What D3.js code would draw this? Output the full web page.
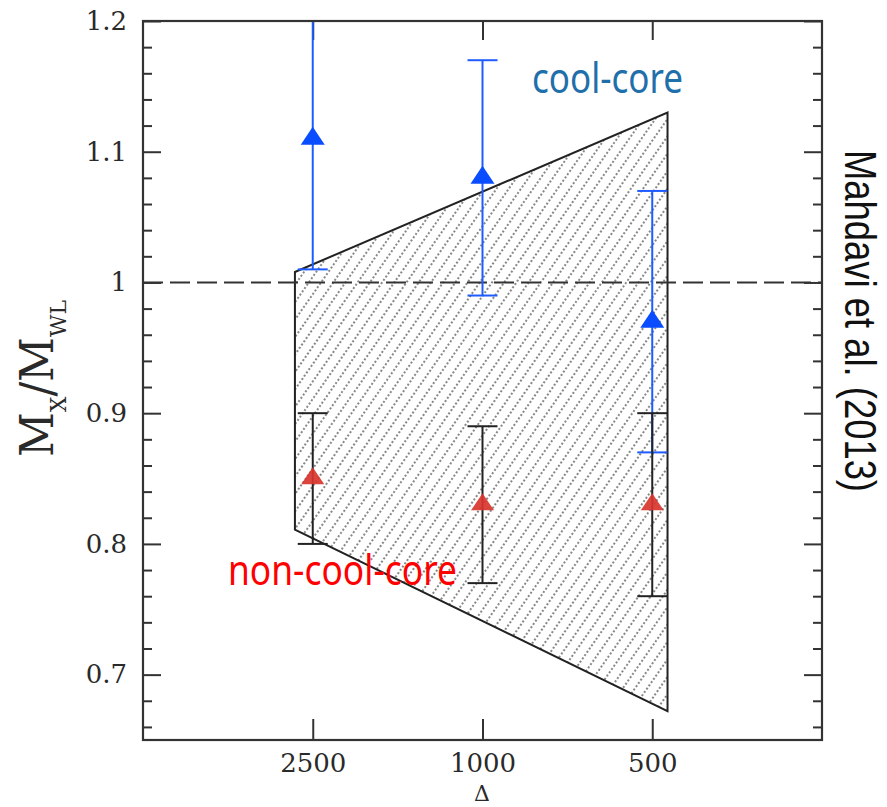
<!DOCTYPE html>
<html>
<head>
<meta charset="utf-8">
<script src="https://cdn.jsdelivr.net/npm/d3@7"></script>
<style>
  html, body { margin: 0; padding: 0; background: #fff; }
  svg { display: block; }
</style>
</head>
<body>
<svg id="chart" width="887" height="807"></svg>
<script>
// ---------- data ----------
const categories = ["2500", "1000", "500"];           // overdensity Δ
const coolCoreValue = [1.11, 1.08, 0.97];
const coolCoreLow   = [1.01, 0.99, 0.87];
const coolCoreHigh  = [1.22, 1.17, 1.07];
const nonCoolValue  = [0.85, 0.83, 0.83];
const nonCoolLow    = [0.80, 0.77, 0.76];
const nonCoolHigh   = [0.90, 0.89, 0.90];
// hatched band (x in category-index units, y in Mx/Mwl)
const bandX = [-0.105, 2.09, 2.09, -0.105];
const bandY = [1.008, 1.13, 0.672, 0.811];
const yMajorTicks = [0.7, 0.8, 0.9, 1.0, 1.1, 1.2];
const yTickLabels = ["0.7", "0.8", "0.9", "1", "1.1", "1.2"];
const yMinorTicks = [0.66, 0.68, 0.72, 0.74, 0.76, 0.78, 0.82, 0.84, 0.86, 0.88,
                     0.92, 0.94, 0.96, 0.98, 1.02, 1.04, 1.06, 1.08, 1.12, 1.14, 1.16, 1.18];
const referenceLine = 1.0;

// ---------- layout ----------
const L = 143, R = 822, T = 21, B = 740;
const svg = d3.select("#chart");

const x = d3.scalePoint().domain(categories).range([L, R]).padding(1);
const xi = d3.scaleLinear().domain([-1, 3]).range([L, R]);
const y = d3.scaleLinear().domain([0.65, 1.2]).range([B, T]);

const defs = svg.append("defs");
defs.append("clipPath").attr("id", "clip")
  .append("rect").attr("x", L).attr("y", T).attr("width", R - L).attr("height", B - T);
const pat = defs.append("pattern").attr("id", "hatch")
  .attr("patternUnits", "userSpaceOnUse").attr("width", 10).attr("height", 8)
  .attr("patternTransform", "rotate(35)");
pat.append("line").attr("x1", 5).attr("x2", 5).attr("y1", 0).attr("y2", 8)
  .attr("stroke", "#555").attr("stroke-width", 1.4).attr("stroke-dasharray", "2 2");

// ---------- axes (drawn under the data) ----------
const tickFont = "'DejaVu Serif', serif";
function styleAxis(g) {
  g.select(".domain").remove();
  g.selectAll(".tick line").attr("stroke", "#333").attr("stroke-width", 2);
  g.selectAll("text").attr("font-family", tickFont).attr("font-size", 26).attr("fill", "#2a2a2a");
}
// left
svg.append("g").attr("transform", `translate(${L},0)`)
  .call(d3.axisLeft(y).tickValues(yMajorTicks).tickSizeInner(-18).tickSizeOuter(0).tickPadding(16)
    .tickFormat((d, i) => yTickLabels[i]))
  .call(styleAxis);
svg.append("g").attr("transform", `translate(${L},0)`)
  .call(d3.axisLeft(y).tickValues(yMinorTicks).tickSizeInner(-9).tickSizeOuter(0).tickFormat(""))
  .call(styleAxis);
// right
svg.append("g").attr("transform", `translate(${R},0)`)
  .call(d3.axisRight(y).tickValues(yMajorTicks).tickSizeInner(-18).tickSizeOuter(0).tickFormat(""))
  .call(styleAxis);
svg.append("g").attr("transform", `translate(${R},0)`)
  .call(d3.axisRight(y).tickValues(yMinorTicks).tickSizeInner(-9).tickSizeOuter(0).tickFormat(""))
  .call(styleAxis);
// bottom
svg.append("g").attr("transform", `translate(0,${B})`)
  .call(d3.axisBottom(x).tickSizeInner(-21).tickSizeOuter(0).tickPadding(14))
  .call(styleAxis);
// top
svg.append("g").attr("transform", `translate(0,${T})`)
  .call(d3.axisTop(x).tickSizeInner(-19).tickSizeOuter(0).tickFormat(""))
  .call(styleAxis);

const plot = svg.append("g").attr("clip-path", "url(#clip)");

// hatched band
const bandPts = bandX.map((v, i) => [xi(v), y(bandY[i])]);
plot.append("path")
  .attr("d", d3.line()(bandPts) + "Z")
  .attr("fill", "url(#hatch)")
  .attr("stroke", "#222").attr("stroke-width", 2).attr("stroke-linejoin", "miter");

// reference dashed line
plot.append("line")
  .attr("x1", L).attr("x2", R).attr("y1", y(referenceLine)).attr("y2", y(referenceLine))
  .attr("stroke", "#333").attr("stroke-width", 2).attr("stroke-dasharray", "20 7");

function errorBars(values, lows, highs, color, capW) {
  const g = plot.append("g").attr("stroke", color).attr("stroke-width", 2);
  categories.forEach((c, i) => {
    const cx = x(c);
    g.append("line").attr("x1", cx).attr("x2", cx).attr("y1", y(lows[i])).attr("y2", y(highs[i]));
    g.append("line").attr("x1", cx - capW).attr("x2", cx + capW).attr("y1", y(lows[i])).attr("y2", y(lows[i]));
    g.append("line").attr("x1", cx - capW).attr("x2", cx + capW).attr("y1", y(highs[i])).attr("y2", y(highs[i]));
  });
}
function triangles(values, color, w, h, opacity) {
  plot.append("g").selectAll("path").data(categories).join("path")
    .attr("d", (c, i) => {
      const cx = x(c), cy = y(values[i]);
      return `M${cx},${cy - 2 * h / 3}L${cx + w / 2},${cy + h / 3}L${cx - w / 2},${cy + h / 3}Z`;
    })
    .attr("fill", color).attr("opacity", opacity);
}

errorBars(coolCoreValue, coolCoreLow, coolCoreHigh, "#1f5cff", 15);
errorBars(nonCoolValue, nonCoolLow, nonCoolHigh, "#222", 15);
triangles(coolCoreValue, "#0a4cff", 24, 18, 1);
triangles(nonCoolValue, "#d9352c", 23, 17, 0.92);

// frame
svg.append("rect").attr("x", L).attr("y", T).attr("width", R - L).attr("height", B - T)
  .attr("fill", "none").attr("stroke", "#333").attr("stroke-width", 2.2);

// x label
svg.append("text").attr("x", 482).attr("y", 801).attr("text-anchor", "middle")
  .attr("font-family", tickFont).attr("font-size", 22).attr("fill", "#2a2a2a").text("Δ");

// y label  M_X / M_WL
const yl = svg.append("g").attr("transform", "translate(53,457) rotate(-90)");
const ylt = yl.append("text").attr("font-family", "'DejaVu Serif', serif").attr("fill", "#2a2a2a")
  .attr("font-size", 46);
ylt.append("tspan").text("M");
ylt.append("tspan").attr("font-size", 23).attr("dy", 13).text("X");
ylt.append("tspan").attr("dy", -13).text("/");
ylt.append("tspan").text("M");
ylt.append("tspan").attr("font-size", 23).attr("dy", 13).text("WL");
{
  const w = ylt.node().getComputedTextLength();
  ylt.attr("transform", `scale(${157 / w},1)`);
}

// annotations
const annFont = "'Noto Sans', 'Open Sans', sans-serif";
svg.append("text").attr("x", 532).attr("y", 93)
  .attr("font-family", annFont).attr("font-size", 42).attr("fill", "#1f6fab")
  .attr("textLength", 151).attr("lengthAdjust", "spacingAndGlyphs").text("cool-core");
svg.append("text").attr("x", 228).attr("y", 585)
  .attr("font-family", annFont).attr("font-size", 42).attr("fill", "#ff0000")
  .attr("textLength", 229).attr("lengthAdjust", "spacingAndGlyphs").text("non-cool-core");
svg.append("text").attr("transform", "translate(845,150) rotate(90)")
  .attr("font-family", "'Liberation Sans', Arial, sans-serif").attr("font-size", 45).attr("fill", "#111")
  .attr("textLength", 342).attr("lengthAdjust", "spacingAndGlyphs").text("Mahdavi et al. (2013)");
</script>
</body>
</html>
